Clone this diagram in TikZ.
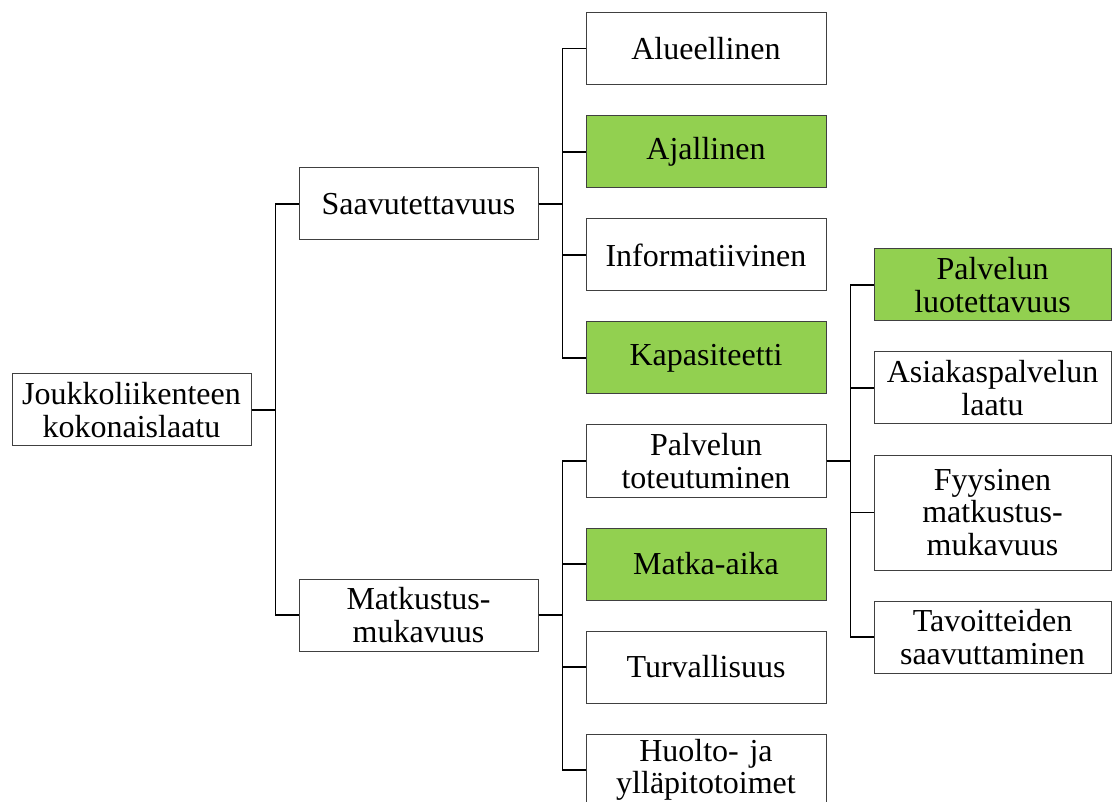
\documentclass[tikz,border=0pt]{standalone}
\usepackage{fontspec}
\setmainfont{Liberation Serif}
\begin{document}
\begin{tikzpicture}[x=1pt,y=-1pt,
  box/.style={draw=black!75, line width=1pt, fill=white, inner sep=0pt,
    minimum width=239pt, minimum height=72pt, text width=235pt, align=center,
    font=\fontsize{32}{32.5}\selectfont},
  hit/.style={box, fill=keygreen},
  link/.style={draw=black, line width=1.1pt}]
\definecolor{keygreen}{HTML}{92D050}
\useasboundingbox (0,0) rectangle (1112,802);
\clip (0,0) rectangle (1112,802);

% root and first level
\node[box] (root) at (131.5,410) {Joukkoliikenteen\\kokonaislaatu};
\node[box] (saav) at (418.5,204) {Saavutettavuus};
\node[box] (matk) at (418.5,615) {Matkustus-\\mukavuus};

% second level
\node[box, minimum width=240pt] (alue) at (706,48.5) {Alueellinen};
\node[hit, minimum width=240pt] (ajal) at (706,152) {Ajallinen};
\node[box, minimum width=240pt] (info) at (706,255) {Informatiivinen};
\node[hit, minimum width=240pt] (kapa) at (706,358) {Kapasiteetti};
\node[box, minimum width=240pt] (palv) at (706,461) {Palvelun\\toteutuminen};
\node[hit, minimum width=240pt] (maik) at (706,564) {Matka-aika};
\node[box, minimum width=240pt] (turv) at (706,667) {Turvallisuus};
\node[box, minimum width=240pt] (huol) at (706,770) {Huolto- ja\\ylläpitotoimet};

% third level
\node[hit, minimum width=237pt] (luot) at (992.5,285) {Palvelun\\luotettavuus};
\node[box, minimum width=237pt] (asia) at (992.5,388) {Asiakaspalvelun\\laatu};
\node[box, minimum width=237pt, minimum height=115pt] (fyys) at (992.5,512.5) {Fyysinen\\matkustus-\\mukavuus};
\node[box, minimum width=237pt] (tavo) at (992.5,637) {Tavoitteiden\\saavuttaminen};

% connectors
\foreach \c in {saav,matk}
  \draw[link] (root.east) -- ++(24,0) |- (\c.west);
\foreach \c in {alue,ajal,info,kapa}
  \draw[link] (saav.east) -- ++(24,0) |- (\c.west);
\foreach \c in {palv,maik,turv,huol}
  \draw[link] (matk.east) -- ++(24,0) |- (\c.west);
\foreach \c in {luot,asia,fyys,tavo}
  \draw[link] (palv.east) -- ++(24,0) |- (\c.west);
\end{tikzpicture}
\end{document}
